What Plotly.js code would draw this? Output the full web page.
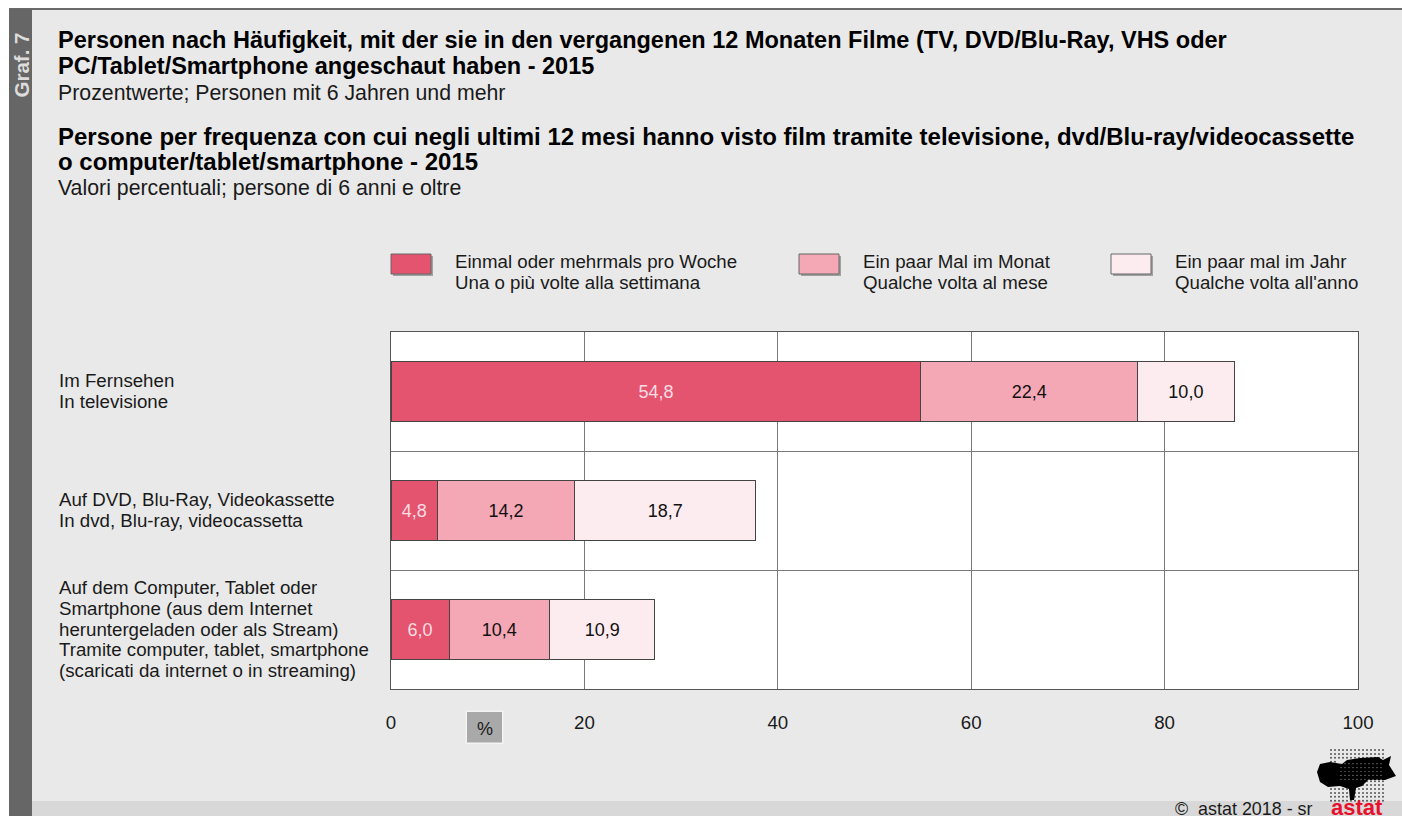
<!DOCTYPE html>
<html><head><meta charset="utf-8">
<script src="https://cdn.plot.ly/plotly-3.0.1.min.js"></script>
<style>html,body{margin:0;padding:0;background:#fff;overflow:hidden}</style></head>
<body><div id="chart" style="width:1402px;height:816px"></div>
<script>
const categories = ["Im Fernsehen", "Auf DVD, Blu-Ray, Videokassette", "Auf dem Computer, Tablet oder"];
const categoryLines = [
  ["Im Fernsehen", "In televisione"],
  ["Auf DVD, Blu-Ray, Videokassette", "In dvd, Blu-ray, videocassetta"],
  ["Auf dem Computer, Tablet oder", "Smartphone (aus dem Internet", "heruntergeladen oder als Stream)", "Tramite computer, tablet, smartphone", "(scaricati da internet o in streaming)"]
];
const seriesLines = [
  ["Einmal oder mehrmals pro Woche", "Una o più volte alla settimana"],
  ["Ein paar Mal im Monat", "Qualche volta al mese"],
  ["Ein paar mal im Jahr", "Qualche volta all'anno"]
];
const weekly = [54.8, 4.8, 6.0];
const monthly = [22.4, 14.2, 10.4];
const yearly = [10.0, 18.7, 10.9];
const seriesColors = ["#e5546f", "#f4a7b5", "#fcecef"];
const labelColors = ["#fbdde3", "#111111", "#111111"];
const xTicks = [0, 20, 40, 60, 80, 100];
const titleDe = ["Personen nach Häufigkeit, mit der sie in den vergangenen 12 Monaten Filme (TV, DVD/Blu-Ray, VHS oder", "PC/Tablet/Smartphone angeschaut haben - 2015"];
const subtitleDe = "Prozentwerte; Personen mit 6 Jahren und mehr";
const titleIt = ["Persone per frequenza con cui negli ultimi 12 mesi hanno visto film tramite televisione, dvd/Blu-ray/videocassette", "o computer/tablet/smartphone - 2015"];
const subtitleIt = "Valori percentuali; persone di 6 anni e oltre";

const L = 391, R = 1358, T = 332, B = 689;
const px = v => (v - L) / (R - L);
const py = v => (B - v) / (B - T);
const font = "Liberation Sans, Arial, sans-serif";

const traces = [weekly, monthly, yearly].map((vals, i) => ({
  type: "bar", orientation: "h", y: categories, x: vals, name: seriesLines[i].join(" / "),
  width: 0.51,
  marker: {color: seriesColors[i], line: {color: "#444444", width: 1}},
  text: vals, texttemplate: "%{x:.1f}", textposition: "inside", insidetextanchor: "middle",
  textangle: 0, constraintext: "none",
  textfont: {family: font, size: 18, color: labelColors[i]},
  cliponaxis: false, hoverinfo: "x+name"
}));

function rect(x0, y0, x1, y1, fill, extra) {
  return Object.assign({type: "rect", xref: "paper", yref: "paper",
    x0: px(x0), x1: px(x1), y0: py(y0), y1: py(y1), fillcolor: fill,
    line: {width: 0}, layer: "below"}, extra || {});
}
// y is the vertical centre of the line of text
function txt(x, y, text, size, opts) {
  return Object.assign({xref: "paper", yref: "paper", x: px(x), y: py(y), text,
    showarrow: false, xanchor: "left", yanchor: "middle", align: "left",
    font: {family: font, size, color: "#1a1a1a"}, borderpad: 0, borderwidth: 0}, opts || {});
}

const shapes = [
  rect(0, 0, 1402, 9, "#ffffff"),
  rect(0, 0, 9, 816, "#ffffff"),
  rect(9, 8, 1402, 10, "#6a6a6a"),
  rect(9, 9, 32, 816, "#666666"),
  rect(32, 801, 1402, 816, "#d8d8d8"),
  rect(465.5, 710.5, 503.5, 744, "#f4f4f4"),
  rect(467, 712, 502, 742.5, "#a9a9a9")
];
const legendX = [391, 799, 1111];
const legendTextX = [455, 863, 1175];
legendX.forEach((x, i) => {
  shapes.push(rect(x + 2, 256, x + 42, 276, "#a0a0a0"));
  shapes.push(rect(x, 254, x + 40, 274, seriesColors[i], {line: {color: "#666666", width: 1}}));
});

// logo: silhouette of the province on a dot screen
const logoOutline = [[1317,772],[1320,764],[1330,762],[1342,764],[1347,760],[1360,758],[1378,757],[1383,760],[1391,756],[1389,765],[1396,776],[1385,780],[1368,780],[1362,786],[1356,788],[1354,800],[1350,800],[1349,789],[1340,786],[1328,787],[1320,782]];
shapes.push({type: "path", xref: "paper", yref: "paper", layer: "above", fillcolor: "#000000", line: {width: 0},
  path: logoOutline.map((p, i) => (i ? "L" : "M") + px(p[0]) + "," + py(p[1])).join(" ") + " Z"});
for (let row = 0; row < 14; row++) {
  for (let col = 0; col < 14; col++) {
    const cx = 1331 + col * 4, cy = 750 + row * 3.9;
    const inside = cy > 759 && cy < 780 && cx > 1335;
    if (inside) {
      if (cx < 1383 && cy < 778) shapes.push({type: "circle", xref: "paper", yref: "paper", layer: "above",
        x0: px(cx + 1.4), x1: px(cx + 2.6), y0: py(cy + 1.4), y1: py(cy + 2.6),
        fillcolor: "#9a9a9a", line: {width: 0}});
      continue;
    }
    shapes.push({type: "circle", xref: "paper", yref: "paper", layer: "below",
      x0: px(cx - 1), x1: px(cx + 1), y0: py(cy - 1), y1: py(cy + 1),
      fillcolor: "#555555", line: {width: 0}});
  }
}

const black = {family: font, size: 23.5, color: "#000"};
const annotations = [
  txt(58, 40, "<b>" + titleDe[0] + "</b>", 23.5, {font: black}),
  txt(58, 66, "<b>" + titleDe[1] + "</b>", 23.5, {font: black}),
  txt(58, 93, subtitleDe, 21.3),
  txt(58, 137, "<b>" + titleIt[0] + "</b>", 24, {font: {family: font, size: 24, color: "#000"}}),
  txt(58, 162, "<b>" + titleIt[1] + "</b>", 24, {font: {family: font, size: 24, color: "#000"}}),
  txt(58, 188, subtitleIt, 21.3),
  {xref: "paper", yref: "paper", x: px(20.5), y: py(65), text: "<b>Graf. 7</b>", textangle: -90, showarrow: false,
   font: {family: font, size: 20.5, color: "#dcdcdc"}, xanchor: "center", yanchor: "middle"},
  txt(485, 729, "%", 18, {xanchor: "center", align: "center"}),
  txt(1175, 808.5, "©  astat 2018 - sr", 17.9),
  txt(1331, 807, "<b>astat</b>", 22, {font: {family: font, size: 22, color: "#e8112d"}})
];
seriesLines.forEach((lines, i) => lines.forEach((l, j) =>
  annotations.push(txt(legendTextX[i], 261 + 21 * j, l, 18.7))));
categoryLines.forEach((lines, i) => lines.forEach((l, j) =>
  annotations.push({xref: "paper", yref: "y", x: px(57.5), y: categories[i], text: l,
    yshift: 0.5 - (j - (lines.length - 1) / 2) * 20.8,
    showarrow: false, xanchor: "left", yanchor: "middle", align: "left", borderpad: 0,
    font: {family: font, size: 18.7, color: "#1a1a1a"}})));

const layout = {
  width: 1402, height: 816, autosize: false,
  margin: {l: L, r: 1402 - R, t: T, b: 816 - B, pad: 0},
  paper_bgcolor: "#e9e9e9", plot_bgcolor: "#ffffff",
  barmode: "stack", showlegend: false, separators: ",.",
  xaxis: {range: [0, 100], tickvals: xTicks, ticks: "", ticklabelstandoff: 17, showgrid: true, gridcolor: "#7a7a7a", gridwidth: 1,
    zeroline: false, showline: true, linecolor: "#555555", linewidth: 1, mirror: true,
    tickfont: {family: font, size: 18.7, color: "#1a1a1a"}},
  yaxis: {type: "category", categoryorder: "array", categoryarray: categories, autorange: false, range: [2.5, -0.5],
    tickson: "boundaries", ticks: "", showticklabels: false, showgrid: true, gridcolor: "#7a7a7a", gridwidth: 1,
    zeroline: false, showline: true, linecolor: "#555555", linewidth: 1, mirror: true},
  shapes, annotations
};
Plotly.newPlot("chart", traces, layout, {displayModeBar: false, responsive: false});
</script></body></html>
